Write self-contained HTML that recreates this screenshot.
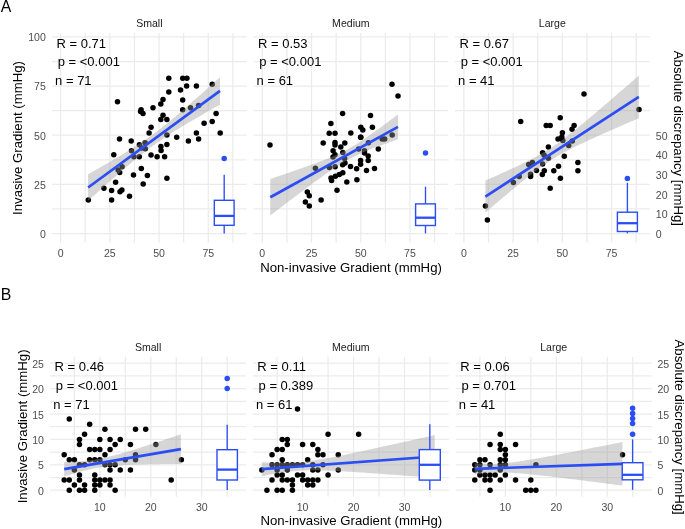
<!DOCTYPE html><html><head><meta charset="utf-8"><style>html,body{margin:0;padding:0;background:#fff;}svg{display:block;will-change:transform;}</style></head><body><svg width="685" height="529" viewBox="0 0 685 529" font-family='"Liberation Sans", sans-serif'>
<rect width="685" height="529" fill="#fff"/>
<g stroke="#EBEBEB" stroke-width="1.25"><line x1="60.60" y1="33.0" x2="60.60" y2="242.7"/><line x1="85.21" y1="33.0" x2="85.21" y2="242.7"/><line x1="109.83" y1="33.0" x2="109.83" y2="242.7"/><line x1="134.44" y1="33.0" x2="134.44" y2="242.7"/><line x1="159.05" y1="33.0" x2="159.05" y2="242.7"/><line x1="183.66" y1="33.0" x2="183.66" y2="242.7"/><line x1="208.28" y1="33.0" x2="208.28" y2="242.7"/><line x1="232.89" y1="33.0" x2="232.89" y2="242.7"/><line x1="52.0" y1="233.50" x2="246.75" y2="233.50"/><line x1="52.0" y1="208.93" x2="246.75" y2="208.93"/><line x1="52.0" y1="184.36" x2="246.75" y2="184.36"/><line x1="52.0" y1="159.79" x2="246.75" y2="159.79"/><line x1="52.0" y1="135.22" x2="246.75" y2="135.22"/><line x1="52.0" y1="110.64" x2="246.75" y2="110.64"/><line x1="52.0" y1="86.07" x2="246.75" y2="86.07"/><line x1="52.0" y1="61.50" x2="246.75" y2="61.50"/><line x1="52.0" y1="36.93" x2="246.75" y2="36.93"/></g>
<g fill="#000"><circle cx="168.80" cy="78.30" r="2.75"/><circle cx="182.70" cy="78.30" r="2.75"/><circle cx="186.90" cy="78.30" r="2.75"/><circle cx="186.60" cy="86.10" r="2.75"/><circle cx="196.40" cy="86.10" r="2.75"/><circle cx="212.20" cy="84.20" r="2.75"/><circle cx="168.80" cy="91.90" r="2.75"/><circle cx="180.50" cy="90.00" r="2.75"/><circle cx="182.70" cy="99.90" r="2.75"/><circle cx="163.00" cy="99.60" r="2.75"/><circle cx="160.80" cy="103.90" r="2.75"/><circle cx="153.00" cy="107.70" r="2.75"/><circle cx="182.70" cy="109.70" r="2.75"/><circle cx="190.50" cy="107.70" r="2.75"/><circle cx="198.60" cy="105.50" r="2.75"/><circle cx="163.00" cy="115.30" r="2.75"/><circle cx="160.80" cy="119.60" r="2.75"/><circle cx="166.90" cy="119.60" r="2.75"/><circle cx="216.10" cy="113.50" r="2.75"/><circle cx="212.20" cy="121.40" r="2.75"/><circle cx="204.10" cy="123.30" r="2.75"/><circle cx="151.10" cy="127.20" r="2.75"/><circle cx="149.10" cy="133.10" r="2.75"/><circle cx="166.90" cy="135.00" r="2.75"/><circle cx="176.70" cy="137.20" r="2.75"/><circle cx="196.40" cy="133.10" r="2.75"/><circle cx="198.60" cy="138.90" r="2.75"/><circle cx="188.40" cy="141.10" r="2.75"/><circle cx="220.20" cy="133.10" r="2.75"/><circle cx="166.90" cy="144.50" r="2.75"/><circle cx="117.50" cy="101.80" r="2.75"/><circle cx="141.10" cy="109.70" r="2.75"/><circle cx="143.00" cy="113.50" r="2.75"/><circle cx="140.60" cy="111.40" r="2.75"/><circle cx="119.50" cy="139.00" r="2.75"/><circle cx="131.20" cy="141.10" r="2.75"/><circle cx="139.40" cy="144.70" r="2.75"/><circle cx="145.10" cy="142.70" r="2.75"/><circle cx="145.30" cy="148.80" r="2.75"/><circle cx="141.80" cy="148.00" r="2.75"/><circle cx="131.50" cy="150.80" r="2.75"/><circle cx="133.90" cy="156.70" r="2.75"/><circle cx="139.30" cy="156.70" r="2.75"/><circle cx="113.80" cy="154.80" r="2.75"/><circle cx="151.00" cy="155.00" r="2.75"/><circle cx="157.10" cy="156.70" r="2.75"/><circle cx="164.60" cy="156.70" r="2.75"/><circle cx="160.90" cy="146.60" r="2.75"/><circle cx="161.10" cy="150.60" r="2.75"/><circle cx="122.10" cy="166.80" r="2.75"/><circle cx="118.10" cy="169.90" r="2.75"/><circle cx="119.70" cy="172.50" r="2.75"/><circle cx="141.30" cy="168.50" r="2.75"/><circle cx="133.50" cy="175.10" r="2.75"/><circle cx="147.40" cy="175.60" r="2.75"/><circle cx="166.90" cy="178.20" r="2.75"/><circle cx="143.20" cy="184.10" r="2.75"/><circle cx="115.60" cy="182.30" r="2.75"/><circle cx="103.90" cy="188.20" r="2.75"/><circle cx="111.60" cy="190.40" r="2.75"/><circle cx="120.00" cy="191.80" r="2.75"/><circle cx="121.90" cy="190.10" r="2.75"/><circle cx="129.50" cy="196.20" r="2.75"/><circle cx="111.60" cy="199.90" r="2.75"/><circle cx="88.30" cy="199.90" r="2.75"/></g>
<path d="M88.10,174.19 L90.30,172.95 L92.50,171.71 L94.69,170.46 L96.89,169.21 L99.09,167.96 L101.29,166.70 L103.49,165.44 L105.69,164.18 L107.88,162.91 L110.08,161.64 L112.28,160.36 L114.48,159.07 L116.68,157.78 L118.88,156.47 L121.07,155.16 L123.27,153.84 L125.47,152.51 L127.67,151.17 L129.87,149.81 L132.07,148.44 L134.26,147.05 L136.46,145.64 L138.66,144.21 L140.86,142.76 L143.06,141.29 L145.26,139.79 L147.45,138.26 L149.65,136.71 L151.85,135.13 L154.05,133.51 L156.25,131.87 L158.45,130.20 L160.64,128.50 L162.84,126.78 L165.04,125.03 L167.24,123.25 L169.44,121.46 L171.64,119.64 L173.83,117.81 L176.03,115.96 L178.23,114.09 L180.43,112.21 L182.63,110.32 L184.83,108.42 L187.02,106.51 L189.22,104.59 L191.42,102.66 L193.62,100.73 L195.82,98.79 L198.02,96.84 L200.22,94.89 L202.41,92.93 L204.61,90.97 L206.81,89.01 L209.01,87.04 L211.21,85.07 L213.41,83.09 L215.60,81.12 L217.80,79.14 L220.00,77.16 L220.00,104.64 L217.80,105.88 L215.60,107.12 L213.41,108.37 L211.21,109.61 L209.01,110.86 L206.81,112.11 L204.61,113.37 L202.41,114.63 L200.22,115.89 L198.02,117.16 L195.82,118.43 L193.62,119.71 L191.42,121.00 L189.22,122.29 L187.02,123.59 L184.83,124.90 L182.63,126.22 L180.43,127.55 L178.23,128.89 L176.03,130.24 L173.83,131.61 L171.64,133.00 L169.44,134.40 L167.24,135.83 L165.04,137.27 L162.84,138.74 L160.64,140.24 L158.45,141.76 L156.25,143.31 L154.05,144.89 L151.85,146.49 L149.65,148.13 L147.45,149.80 L145.26,151.49 L143.06,153.21 L140.86,154.96 L138.66,156.73 L136.46,158.52 L134.26,160.33 L132.07,162.16 L129.87,164.01 L127.67,165.87 L125.47,167.75 L123.27,169.64 L121.07,171.54 L118.88,173.45 L116.68,175.36 L114.48,177.29 L112.28,179.22 L110.08,181.16 L107.88,183.11 L105.69,185.06 L103.49,187.02 L101.29,188.98 L99.09,190.94 L96.89,192.91 L94.69,194.88 L92.50,196.85 L90.30,198.83 L88.10,200.81Z" fill="#999999" fill-opacity="0.4"/><line x1="88.1" y1="187.5" x2="220.0" y2="90.9" stroke="#2B4DF4" stroke-width="2.7"/>
<g stroke="#2B4DF4" fill="none"><line x1="224.2" y1="174.8" x2="224.2" y2="200.3" stroke-width="1.35"/><line x1="224.2" y1="225.3" x2="224.2" y2="233.4" stroke-width="1.35"/><rect x="214.29999999999998" y="200.3" width="19.8" height="25.0" fill="#fff" stroke-width="1.4"/><line x1="214.29999999999998" y1="215.9" x2="234.1" y2="215.9" stroke-width="2.3"/></g><g fill="#2B4DF4"><circle cx="224.2" cy="158.6" r="2.75"/></g>
<text x="56.50" y="47.70" font-size="13.0" fill="#000" text-anchor="start" >R = 0.71</text>
<text x="57.70" y="66.20" font-size="13.0" fill="#000" text-anchor="start" >p = &lt;0.001</text>
<text x="55.10" y="85.40" font-size="13.0" fill="#000" text-anchor="start" >n = 71</text>
<text x="149.38" y="27.20" font-size="10.56" fill="#1A1A1A" text-anchor="middle" >Small</text>
<text x="60.60" y="256.70" font-size="10.56" fill="#4D4D4D" text-anchor="middle" >0</text>
<text x="109.83" y="256.70" font-size="10.56" fill="#4D4D4D" text-anchor="middle" >25</text>
<text x="159.05" y="256.70" font-size="10.56" fill="#4D4D4D" text-anchor="middle" >50</text>
<text x="208.28" y="256.70" font-size="10.56" fill="#4D4D4D" text-anchor="middle" >75</text>
<g stroke="#EBEBEB" stroke-width="1.25"><line x1="262.30" y1="33.0" x2="262.30" y2="242.7"/><line x1="286.91" y1="33.0" x2="286.91" y2="242.7"/><line x1="311.53" y1="33.0" x2="311.53" y2="242.7"/><line x1="336.14" y1="33.0" x2="336.14" y2="242.7"/><line x1="360.75" y1="33.0" x2="360.75" y2="242.7"/><line x1="385.36" y1="33.0" x2="385.36" y2="242.7"/><line x1="409.98" y1="33.0" x2="409.98" y2="242.7"/><line x1="434.59" y1="33.0" x2="434.59" y2="242.7"/><line x1="253.5" y1="233.50" x2="448.25" y2="233.50"/><line x1="253.5" y1="208.93" x2="448.25" y2="208.93"/><line x1="253.5" y1="184.36" x2="448.25" y2="184.36"/><line x1="253.5" y1="159.79" x2="448.25" y2="159.79"/><line x1="253.5" y1="135.22" x2="448.25" y2="135.22"/><line x1="253.5" y1="110.64" x2="448.25" y2="110.64"/><line x1="253.5" y1="86.07" x2="448.25" y2="86.07"/><line x1="253.5" y1="61.50" x2="448.25" y2="61.50"/><line x1="253.5" y1="36.93" x2="448.25" y2="36.93"/></g>
<g fill="#000"><circle cx="392.00" cy="84.20" r="2.75"/><circle cx="398.00" cy="96.00" r="2.75"/><circle cx="370.50" cy="115.50" r="2.75"/><circle cx="360.80" cy="127.20" r="2.75"/><circle cx="362.80" cy="129.90" r="2.75"/><circle cx="372.40" cy="127.20" r="2.75"/><circle cx="350.80" cy="133.10" r="2.75"/><circle cx="360.80" cy="137.20" r="2.75"/><circle cx="382.20" cy="138.90" r="2.75"/><circle cx="384.70" cy="138.90" r="2.75"/><circle cx="392.20" cy="135.00" r="2.75"/><circle cx="368.40" cy="142.70" r="2.75"/><circle cx="342.60" cy="113.60" r="2.75"/><circle cx="330.90" cy="123.40" r="2.75"/><circle cx="329.20" cy="133.30" r="2.75"/><circle cx="335.00" cy="133.30" r="2.75"/><circle cx="270.00" cy="145.00" r="2.75"/><circle cx="323.20" cy="143.10" r="2.75"/><circle cx="335.00" cy="142.60" r="2.75"/><circle cx="335.00" cy="145.00" r="2.75"/><circle cx="344.80" cy="143.10" r="2.75"/><circle cx="340.80" cy="147.00" r="2.75"/><circle cx="333.10" cy="150.80" r="2.75"/><circle cx="360.60" cy="137.20" r="2.75"/><circle cx="335.00" cy="154.70" r="2.75"/><circle cx="333.00" cy="156.90" r="2.75"/><circle cx="342.80" cy="152.50" r="2.75"/><circle cx="344.60" cy="158.60" r="2.75"/><circle cx="345.00" cy="162.90" r="2.75"/><circle cx="342.60" cy="164.80" r="2.75"/><circle cx="358.60" cy="149.00" r="2.75"/><circle cx="364.50" cy="150.80" r="2.75"/><circle cx="364.50" cy="153.00" r="2.75"/><circle cx="368.20" cy="156.00" r="2.75"/><circle cx="368.20" cy="160.40" r="2.75"/><circle cx="360.60" cy="160.40" r="2.75"/><circle cx="360.60" cy="164.30" r="2.75"/><circle cx="315.40" cy="168.30" r="2.75"/><circle cx="329.40" cy="167.40" r="2.75"/><circle cx="335.10" cy="166.70" r="2.75"/><circle cx="350.50" cy="166.40" r="2.75"/><circle cx="356.60" cy="168.70" r="2.75"/><circle cx="366.50" cy="170.50" r="2.75"/><circle cx="342.80" cy="172.70" r="2.75"/><circle cx="339.30" cy="174.40" r="2.75"/><circle cx="335.40" cy="176.20" r="2.75"/><circle cx="331.00" cy="177.90" r="2.75"/><circle cx="331.60" cy="180.40" r="2.75"/><circle cx="356.90" cy="179.70" r="2.75"/><circle cx="346.80" cy="182.00" r="2.75"/><circle cx="337.00" cy="190.20" r="2.75"/><circle cx="307.30" cy="192.10" r="2.75"/><circle cx="309.30" cy="195.80" r="2.75"/><circle cx="305.40" cy="202.00" r="2.75"/><circle cx="309.30" cy="206.00" r="2.75"/><circle cx="321.10" cy="199.90" r="2.75"/><circle cx="378.30" cy="149.00" r="2.75"/><circle cx="374.50" cy="168.50" r="2.75"/></g>
<path d="M270.30,178.95 L272.43,178.24 L274.56,177.52 L276.69,176.80 L278.81,176.08 L280.94,175.36 L283.07,174.64 L285.20,173.91 L287.33,173.18 L289.45,172.46 L291.58,171.72 L293.71,170.99 L295.84,170.25 L297.97,169.51 L300.10,168.77 L302.23,168.02 L304.35,167.27 L306.48,166.52 L308.61,165.76 L310.74,164.99 L312.87,164.21 L315.00,163.43 L317.12,162.64 L319.25,161.84 L321.38,161.03 L323.51,160.21 L325.64,159.37 L327.76,158.52 L329.89,157.64 L332.02,156.75 L334.15,155.83 L336.28,154.89 L338.41,153.91 L340.53,152.90 L342.66,151.85 L344.79,150.77 L346.92,149.64 L349.05,148.47 L351.18,147.26 L353.31,146.01 L355.43,144.71 L357.56,143.38 L359.69,142.02 L361.82,140.63 L363.95,139.20 L366.07,137.76 L368.20,136.29 L370.33,134.80 L372.46,133.30 L374.59,131.78 L376.72,130.25 L378.85,128.71 L380.97,127.15 L383.10,125.59 L385.23,124.02 L387.36,122.45 L389.49,120.87 L391.62,119.28 L393.74,117.69 L395.87,116.09 L398.00,114.49 L398.00,139.31 L395.87,140.05 L393.74,140.80 L391.62,141.55 L389.49,142.31 L387.36,143.07 L385.23,143.84 L383.10,144.61 L380.97,145.39 L378.85,146.18 L376.72,146.98 L374.59,147.80 L372.46,148.62 L370.33,149.46 L368.20,150.32 L366.07,151.19 L363.95,152.09 L361.82,153.01 L359.69,153.96 L357.56,154.94 L355.43,155.95 L353.31,157.00 L351.18,158.10 L349.05,159.23 L346.92,160.40 L344.79,161.62 L342.66,162.87 L340.53,164.17 L338.41,165.50 L336.28,166.87 L334.15,168.27 L332.02,169.69 L329.89,171.14 L327.76,172.61 L325.64,174.10 L323.51,175.61 L321.38,177.13 L319.25,178.66 L317.12,180.20 L315.00,181.76 L312.87,183.32 L310.74,184.89 L308.61,186.46 L306.48,188.05 L304.35,189.63 L302.23,191.23 L300.10,192.82 L297.97,194.42 L295.84,196.03 L293.71,197.63 L291.58,199.24 L289.45,200.85 L287.33,202.47 L285.20,204.09 L283.07,205.70 L280.94,207.32 L278.81,208.94 L276.69,210.57 L274.56,212.19 L272.43,213.82 L270.30,215.45Z" fill="#999999" fill-opacity="0.4"/><line x1="270.3" y1="197.2" x2="398.0" y2="126.9" stroke="#2B4DF4" stroke-width="2.7"/>
<g stroke="#2B4DF4" fill="none"><line x1="425.5" y1="186.7" x2="425.5" y2="203.9" stroke-width="1.35"/><line x1="425.5" y1="225.5" x2="425.5" y2="233.4" stroke-width="1.35"/><rect x="415.6" y="203.9" width="19.8" height="21.599999999999994" fill="#fff" stroke-width="1.4"/><line x1="415.6" y1="217.7" x2="435.4" y2="217.7" stroke-width="2.3"/></g><g fill="#2B4DF4"><circle cx="425.5" cy="153.1" r="2.75"/></g>
<text x="258.00" y="47.70" font-size="13.0" fill="#000" text-anchor="start" >R = 0.53</text>
<text x="259.20" y="66.20" font-size="13.0" fill="#000" text-anchor="start" >p = &lt;0.001</text>
<text x="256.60" y="85.40" font-size="13.0" fill="#000" text-anchor="start" >n = 61</text>
<text x="350.88" y="27.20" font-size="10.56" fill="#1A1A1A" text-anchor="middle" >Medium</text>
<text x="262.30" y="256.70" font-size="10.56" fill="#4D4D4D" text-anchor="middle" >0</text>
<text x="311.53" y="256.70" font-size="10.56" fill="#4D4D4D" text-anchor="middle" >25</text>
<text x="360.75" y="256.70" font-size="10.56" fill="#4D4D4D" text-anchor="middle" >50</text>
<text x="409.98" y="256.70" font-size="10.56" fill="#4D4D4D" text-anchor="middle" >75</text>
<g stroke="#EBEBEB" stroke-width="1.25"><line x1="463.90" y1="33.0" x2="463.90" y2="242.7"/><line x1="488.51" y1="33.0" x2="488.51" y2="242.7"/><line x1="513.12" y1="33.0" x2="513.12" y2="242.7"/><line x1="537.74" y1="33.0" x2="537.74" y2="242.7"/><line x1="562.35" y1="33.0" x2="562.35" y2="242.7"/><line x1="586.96" y1="33.0" x2="586.96" y2="242.7"/><line x1="611.58" y1="33.0" x2="611.58" y2="242.7"/><line x1="636.19" y1="33.0" x2="636.19" y2="242.7"/><line x1="454.95" y1="233.50" x2="649.70" y2="233.50"/><line x1="454.95" y1="208.93" x2="649.70" y2="208.93"/><line x1="454.95" y1="184.36" x2="649.70" y2="184.36"/><line x1="454.95" y1="159.79" x2="649.70" y2="159.79"/><line x1="454.95" y1="135.22" x2="649.70" y2="135.22"/><line x1="454.95" y1="110.64" x2="649.70" y2="110.64"/><line x1="454.95" y1="86.07" x2="649.70" y2="86.07"/><line x1="454.95" y1="61.50" x2="649.70" y2="61.50"/><line x1="454.95" y1="36.93" x2="649.70" y2="36.93"/></g>
<g fill="#000"><circle cx="520.70" cy="121.60" r="2.75"/><circle cx="546.20" cy="125.50" r="2.75"/><circle cx="550.20" cy="125.50" r="2.75"/><circle cx="548.40" cy="146.90" r="2.75"/><circle cx="542.60" cy="152.70" r="2.75"/><circle cx="584.00" cy="93.90" r="2.75"/><circle cx="560.20" cy="117.70" r="2.75"/><circle cx="574.10" cy="125.50" r="2.75"/><circle cx="572.00" cy="129.30" r="2.75"/><circle cx="562.40" cy="132.80" r="2.75"/><circle cx="561.80" cy="136.90" r="2.75"/><circle cx="558.00" cy="139.10" r="2.75"/><circle cx="562.80" cy="140.60" r="2.75"/><circle cx="572.30" cy="141.00" r="2.75"/><circle cx="568.70" cy="145.40" r="2.75"/><circle cx="544.20" cy="155.20" r="2.75"/><circle cx="564.30" cy="156.20" r="2.75"/><circle cx="548.40" cy="158.20" r="2.75"/><circle cx="542.60" cy="164.10" r="2.75"/><circle cx="528.70" cy="164.50" r="2.75"/><circle cx="532.40" cy="162.60" r="2.75"/><circle cx="536.50" cy="170.40" r="2.75"/><circle cx="544.30" cy="170.70" r="2.75"/><circle cx="542.30" cy="174.60" r="2.75"/><circle cx="530.60" cy="174.30" r="2.75"/><circle cx="530.60" cy="176.50" r="2.75"/><circle cx="519.20" cy="176.50" r="2.75"/><circle cx="513.40" cy="182.60" r="2.75"/><circle cx="553.80" cy="170.70" r="2.75"/><circle cx="550.20" cy="188.20" r="2.75"/><circle cx="485.40" cy="206.00" r="2.75"/><circle cx="487.40" cy="219.90" r="2.75"/><circle cx="558.50" cy="166.30" r="2.75"/><circle cx="560.40" cy="178.20" r="2.75"/><circle cx="577.90" cy="162.60" r="2.75"/><circle cx="577.90" cy="170.70" r="2.75"/><circle cx="639.00" cy="109.60" r="2.75"/></g>
<path d="M485.40,180.55 L487.96,179.43 L490.51,178.30 L493.07,177.17 L495.63,176.04 L498.18,174.90 L500.74,173.76 L503.30,172.61 L505.85,171.45 L508.41,170.29 L510.97,169.11 L513.52,167.93 L516.08,166.73 L518.64,165.52 L521.19,164.30 L523.75,163.06 L526.31,161.79 L528.86,160.51 L531.42,159.19 L533.98,157.85 L536.53,156.47 L539.09,155.05 L541.65,153.58 L544.20,152.07 L546.76,150.50 L549.32,148.88 L551.87,147.21 L554.43,145.48 L556.99,143.69 L559.54,141.86 L562.10,139.98 L564.66,138.06 L567.21,136.09 L569.77,134.10 L572.33,132.08 L574.88,130.03 L577.44,127.96 L580.00,125.87 L582.55,123.76 L585.11,121.64 L587.67,119.51 L590.22,117.36 L592.78,115.21 L595.34,113.04 L597.89,110.87 L600.45,108.70 L603.01,106.52 L605.56,104.33 L608.12,102.14 L610.68,99.94 L613.23,97.74 L615.79,95.54 L618.35,93.33 L620.90,91.12 L623.46,88.91 L626.02,86.70 L628.57,84.48 L631.13,82.26 L633.69,80.04 L636.24,77.82 L638.80,75.60 L638.80,118.20 L636.24,119.30 L633.69,120.40 L631.13,121.51 L628.57,122.61 L626.02,123.72 L623.46,124.83 L620.90,125.94 L618.35,127.06 L615.79,128.17 L613.23,129.29 L610.68,130.42 L608.12,131.54 L605.56,132.67 L603.01,133.81 L600.45,134.95 L597.89,136.10 L595.34,137.25 L592.78,138.41 L590.22,139.58 L587.67,140.76 L585.11,141.95 L582.55,143.15 L580.00,144.37 L577.44,145.60 L574.88,146.86 L572.33,148.13 L569.77,149.43 L567.21,150.76 L564.66,152.12 L562.10,153.52 L559.54,154.96 L556.99,156.45 L554.43,157.99 L551.87,159.58 L549.32,161.23 L546.76,162.94 L544.20,164.69 L541.65,166.50 L539.09,168.36 L536.53,170.27 L533.98,172.21 L531.42,174.19 L528.86,176.20 L526.31,178.23 L523.75,180.29 L521.19,182.37 L518.64,184.47 L516.08,186.59 L513.52,188.72 L510.97,190.85 L508.41,193.00 L505.85,195.16 L503.30,197.33 L500.74,199.50 L498.18,201.68 L495.63,203.87 L493.07,206.06 L490.51,208.25 L487.96,210.45 L485.40,212.65Z" fill="#999999" fill-opacity="0.4"/><line x1="485.4" y1="196.6" x2="638.8" y2="96.9" stroke="#2B4DF4" stroke-width="2.7"/>
<g stroke="#2B4DF4" fill="none"><line x1="627.4" y1="182.8" x2="627.4" y2="212.2" stroke-width="1.35"/><line x1="627.4" y1="231.5" x2="627.4" y2="233.4" stroke-width="1.35"/><rect x="617.4" y="212.2" width="20.0" height="19.30000000000001" fill="#fff" stroke-width="1.4"/><line x1="617.4" y1="223.2" x2="637.4" y2="223.2" stroke-width="2.3"/></g><g fill="#2B4DF4"><circle cx="627.4" cy="178.6" r="2.75"/></g>
<text x="459.45" y="47.70" font-size="13.0" fill="#000" text-anchor="start" >R = 0.67</text>
<text x="460.65" y="66.20" font-size="13.0" fill="#000" text-anchor="start" >p = &lt;0.001</text>
<text x="458.05" y="85.40" font-size="13.0" fill="#000" text-anchor="start" >n = 41</text>
<text x="552.33" y="27.20" font-size="10.56" fill="#1A1A1A" text-anchor="middle" >Large</text>
<text x="463.90" y="256.70" font-size="10.56" fill="#4D4D4D" text-anchor="middle" >0</text>
<text x="513.12" y="256.70" font-size="10.56" fill="#4D4D4D" text-anchor="middle" >25</text>
<text x="562.35" y="256.70" font-size="10.56" fill="#4D4D4D" text-anchor="middle" >50</text>
<text x="611.58" y="256.70" font-size="10.56" fill="#4D4D4D" text-anchor="middle" >75</text>
<text x="45.80" y="237.90" font-size="10.56" fill="#4D4D4D" text-anchor="end" >0</text>
<text x="45.80" y="188.76" font-size="10.56" fill="#4D4D4D" text-anchor="end" >25</text>
<text x="45.80" y="139.62" font-size="10.56" fill="#4D4D4D" text-anchor="end" >50</text>
<text x="45.80" y="90.47" font-size="10.56" fill="#4D4D4D" text-anchor="end" >75</text>
<text x="45.80" y="41.33" font-size="10.56" fill="#4D4D4D" text-anchor="end" >100</text>
<text x="655.80" y="237.90" font-size="10.56" fill="#4D4D4D" text-anchor="start" >0</text>
<text x="655.80" y="218.24" font-size="10.56" fill="#4D4D4D" text-anchor="start" >10</text>
<text x="655.80" y="198.59" font-size="10.56" fill="#4D4D4D" text-anchor="start" >20</text>
<text x="655.80" y="178.93" font-size="10.56" fill="#4D4D4D" text-anchor="start" >30</text>
<text x="655.80" y="159.27" font-size="10.56" fill="#4D4D4D" text-anchor="start" >40</text>
<text x="655.80" y="139.62" font-size="10.56" fill="#4D4D4D" text-anchor="start" >50</text>
<g stroke="#EBEBEB" stroke-width="1.25"><line x1="74.38" y1="356.8" x2="74.38" y2="496.8"/><line x1="99.85" y1="356.8" x2="99.85" y2="496.8"/><line x1="125.32" y1="356.8" x2="125.32" y2="496.8"/><line x1="150.80" y1="356.8" x2="150.80" y2="496.8"/><line x1="176.28" y1="356.8" x2="176.28" y2="496.8"/><line x1="201.75" y1="356.8" x2="201.75" y2="496.8"/><line x1="227.22" y1="356.8" x2="227.22" y2="496.8"/><line x1="50.1" y1="490.20" x2="246.10" y2="490.20"/><line x1="50.1" y1="477.50" x2="246.10" y2="477.50"/><line x1="50.1" y1="464.80" x2="246.10" y2="464.80"/><line x1="50.1" y1="452.10" x2="246.10" y2="452.10"/><line x1="50.1" y1="439.40" x2="246.10" y2="439.40"/><line x1="50.1" y1="426.70" x2="246.10" y2="426.70"/><line x1="50.1" y1="414.00" x2="246.10" y2="414.00"/><line x1="50.1" y1="401.30" x2="246.10" y2="401.30"/><line x1="50.1" y1="388.60" x2="246.10" y2="388.60"/><line x1="50.1" y1="375.90" x2="246.10" y2="375.90"/><line x1="50.1" y1="363.20" x2="246.10" y2="363.20"/></g>
<g fill="#000"><circle cx="69.28" cy="419.08" r="2.75"/><circle cx="89.66" cy="424.16" r="2.75"/><circle cx="104.94" cy="429.24" r="2.75"/><circle cx="135.51" cy="429.24" r="2.75"/><circle cx="145.70" cy="429.24" r="2.75"/><circle cx="84.56" cy="434.32" r="2.75"/><circle cx="79.47" cy="439.40" r="2.75"/><circle cx="99.85" cy="439.40" r="2.75"/><circle cx="110.04" cy="439.40" r="2.75"/><circle cx="120.23" cy="439.40" r="2.75"/><circle cx="79.47" cy="444.48" r="2.75"/><circle cx="115.13" cy="444.48" r="2.75"/><circle cx="130.42" cy="444.48" r="2.75"/><circle cx="155.89" cy="444.48" r="2.75"/><circle cx="89.66" cy="449.56" r="2.75"/><circle cx="94.75" cy="449.56" r="2.75"/><circle cx="99.85" cy="449.56" r="2.75"/><circle cx="110.04" cy="449.56" r="2.75"/><circle cx="64.19" cy="454.64" r="2.75"/><circle cx="104.94" cy="454.64" r="2.75"/><circle cx="135.51" cy="454.64" r="2.75"/><circle cx="69.28" cy="459.72" r="2.75"/><circle cx="74.38" cy="459.72" r="2.75"/><circle cx="89.66" cy="459.72" r="2.75"/><circle cx="94.75" cy="459.72" r="2.75"/><circle cx="99.85" cy="459.72" r="2.75"/><circle cx="125.32" cy="459.72" r="2.75"/><circle cx="135.51" cy="459.72" r="2.75"/><circle cx="181.37" cy="459.72" r="2.75"/><circle cx="79.47" cy="464.80" r="2.75"/><circle cx="84.56" cy="464.80" r="2.75"/><circle cx="104.94" cy="464.80" r="2.75"/><circle cx="110.04" cy="464.80" r="2.75"/><circle cx="115.13" cy="464.80" r="2.75"/><circle cx="74.38" cy="469.88" r="2.75"/><circle cx="110.04" cy="469.88" r="2.75"/><circle cx="120.23" cy="469.88" r="2.75"/><circle cx="130.42" cy="469.88" r="2.75"/><circle cx="79.47" cy="474.96" r="2.75"/><circle cx="94.75" cy="474.96" r="2.75"/><circle cx="64.19" cy="480.04" r="2.75"/><circle cx="69.28" cy="480.04" r="2.75"/><circle cx="79.47" cy="480.04" r="2.75"/><circle cx="94.75" cy="480.04" r="2.75"/><circle cx="99.85" cy="480.04" r="2.75"/><circle cx="104.94" cy="480.04" r="2.75"/><circle cx="110.04" cy="480.04" r="2.75"/><circle cx="171.18" cy="480.04" r="2.75"/><circle cx="74.38" cy="485.12" r="2.75"/><circle cx="84.56" cy="485.12" r="2.75"/><circle cx="94.75" cy="485.12" r="2.75"/><circle cx="99.85" cy="485.12" r="2.75"/><circle cx="110.04" cy="485.12" r="2.75"/><circle cx="69.28" cy="490.20" r="2.75"/><circle cx="79.47" cy="490.20" r="2.75"/><circle cx="84.56" cy="490.20" r="2.75"/><circle cx="94.75" cy="490.20" r="2.75"/><circle cx="115.13" cy="490.20" r="2.75"/></g>
<path d="M64.20,462.00 L66.14,461.93 L68.09,461.85 L70.03,461.76 L71.98,461.67 L73.92,461.56 L75.87,461.45 L77.81,461.33 L79.76,461.19 L81.70,461.04 L83.65,460.88 L85.59,460.70 L87.54,460.50 L89.49,460.28 L91.43,460.04 L93.38,459.77 L95.32,459.48 L97.27,459.17 L99.21,458.83 L101.16,458.46 L103.10,458.07 L105.05,457.66 L106.99,457.23 L108.94,456.77 L110.88,456.29 L112.83,455.80 L114.77,455.29 L116.72,454.76 L118.66,454.22 L120.61,453.67 L122.55,453.11 L124.50,452.54 L126.44,451.96 L128.38,451.38 L130.33,450.78 L132.28,450.19 L134.22,449.58 L136.17,448.97 L138.11,448.36 L140.06,447.74 L142.00,447.12 L143.94,446.50 L145.89,445.87 L147.84,445.24 L149.78,444.61 L151.73,443.98 L153.67,443.34 L155.62,442.70 L157.56,442.06 L159.50,441.42 L161.45,440.78 L163.39,440.14 L165.34,439.49 L167.29,438.85 L169.23,438.20 L171.18,437.55 L173.12,436.90 L175.06,436.25 L177.01,435.60 L178.96,434.95 L180.90,434.30 L180.90,463.90 L178.96,463.92 L177.01,463.94 L175.06,463.96 L173.12,463.98 L171.18,464.00 L169.23,464.02 L167.29,464.04 L165.34,464.07 L163.39,464.09 L161.45,464.12 L159.50,464.15 L157.56,464.18 L155.62,464.21 L153.67,464.24 L151.73,464.27 L149.78,464.31 L147.84,464.35 L145.89,464.39 L143.94,464.43 L142.00,464.48 L140.06,464.53 L138.11,464.58 L136.17,464.64 L134.22,464.70 L132.28,464.76 L130.33,464.84 L128.38,464.91 L126.44,465.00 L124.50,465.09 L122.55,465.19 L120.61,465.30 L118.66,465.42 L116.72,465.55 L114.77,465.69 L112.83,465.85 L110.88,466.03 L108.94,466.22 L106.99,466.43 L105.05,466.67 L103.10,466.93 L101.16,467.21 L99.21,467.51 L97.27,467.84 L95.32,468.20 L93.38,468.58 L91.43,468.98 L89.49,469.41 L87.54,469.86 L85.59,470.33 L83.65,470.82 L81.70,471.33 L79.76,471.85 L77.81,472.38 L75.87,472.93 L73.92,473.49 L71.98,474.05 L70.03,474.63 L68.09,475.21 L66.14,475.80 L64.20,476.40Z" fill="#999999" fill-opacity="0.4"/><line x1="64.2" y1="469.2" x2="180.9" y2="449.1" stroke="#2B4DF4" stroke-width="2.7"/>
<g stroke="#2B4DF4" fill="none"><line x1="227.2" y1="424.7" x2="227.2" y2="449.7" stroke-width="1.35"/><line x1="227.2" y1="480.0" x2="227.2" y2="490.0" stroke-width="1.35"/><rect x="217.0" y="449.7" width="20.4" height="30.30000000000001" fill="#fff" stroke-width="1.4"/><line x1="217.0" y1="469.6" x2="237.39999999999998" y2="469.6" stroke-width="2.3"/></g><g fill="#2B4DF4"><circle cx="227.2" cy="378.4" r="2.75"/><circle cx="227.2" cy="388.5" r="2.75"/></g>
<text x="54.60" y="371.00" font-size="13.0" fill="#000" text-anchor="start" >R = 0.46</text>
<text x="55.80" y="389.80" font-size="13.0" fill="#000" text-anchor="start" >p = &lt;0.001</text>
<text x="53.20" y="409.10" font-size="13.0" fill="#000" text-anchor="start" >n = 71</text>
<text x="148.10" y="351.00" font-size="10.56" fill="#1A1A1A" text-anchor="middle" >Small</text>
<text x="99.85" y="510.60" font-size="10.56" fill="#4D4D4D" text-anchor="middle" >10</text>
<text x="150.80" y="510.60" font-size="10.56" fill="#4D4D4D" text-anchor="middle" >20</text>
<text x="201.75" y="510.60" font-size="10.56" fill="#4D4D4D" text-anchor="middle" >30</text>
<g stroke="#EBEBEB" stroke-width="1.25"><line x1="277.12" y1="356.8" x2="277.12" y2="496.8"/><line x1="302.60" y1="356.8" x2="302.60" y2="496.8"/><line x1="328.07" y1="356.8" x2="328.07" y2="496.8"/><line x1="353.55" y1="356.8" x2="353.55" y2="496.8"/><line x1="379.02" y1="356.8" x2="379.02" y2="496.8"/><line x1="404.50" y1="356.8" x2="404.50" y2="496.8"/><line x1="429.98" y1="356.8" x2="429.98" y2="496.8"/><line x1="252.85" y1="490.20" x2="448.85" y2="490.20"/><line x1="252.85" y1="477.50" x2="448.85" y2="477.50"/><line x1="252.85" y1="464.80" x2="448.85" y2="464.80"/><line x1="252.85" y1="452.10" x2="448.85" y2="452.10"/><line x1="252.85" y1="439.40" x2="448.85" y2="439.40"/><line x1="252.85" y1="426.70" x2="448.85" y2="426.70"/><line x1="252.85" y1="414.00" x2="448.85" y2="414.00"/><line x1="252.85" y1="401.30" x2="448.85" y2="401.30"/><line x1="252.85" y1="388.60" x2="448.85" y2="388.60"/><line x1="252.85" y1="375.90" x2="448.85" y2="375.90"/><line x1="252.85" y1="363.20" x2="448.85" y2="363.20"/></g>
<g fill="#000"><circle cx="297.50" cy="408.92" r="2.75"/><circle cx="328.07" cy="434.32" r="2.75"/><circle cx="358.64" cy="434.32" r="2.75"/><circle cx="282.22" cy="439.40" r="2.75"/><circle cx="287.31" cy="439.40" r="2.75"/><circle cx="287.31" cy="444.48" r="2.75"/><circle cx="302.60" cy="444.48" r="2.75"/><circle cx="312.79" cy="444.48" r="2.75"/><circle cx="277.12" cy="449.56" r="2.75"/><circle cx="282.22" cy="449.56" r="2.75"/><circle cx="317.88" cy="449.56" r="2.75"/><circle cx="272.03" cy="454.64" r="2.75"/><circle cx="317.88" cy="454.64" r="2.75"/><circle cx="322.98" cy="454.64" r="2.75"/><circle cx="338.26" cy="454.64" r="2.75"/><circle cx="282.22" cy="459.72" r="2.75"/><circle cx="307.69" cy="459.72" r="2.75"/><circle cx="272.03" cy="464.80" r="2.75"/><circle cx="277.12" cy="464.80" r="2.75"/><circle cx="282.22" cy="464.80" r="2.75"/><circle cx="287.31" cy="464.80" r="2.75"/><circle cx="292.41" cy="464.80" r="2.75"/><circle cx="297.50" cy="464.80" r="2.75"/><circle cx="302.60" cy="464.80" r="2.75"/><circle cx="312.79" cy="464.80" r="2.75"/><circle cx="322.98" cy="464.80" r="2.75"/><circle cx="261.84" cy="469.88" r="2.75"/><circle cx="277.12" cy="469.88" r="2.75"/><circle cx="287.31" cy="469.88" r="2.75"/><circle cx="312.79" cy="469.88" r="2.75"/><circle cx="317.88" cy="469.88" r="2.75"/><circle cx="338.26" cy="469.88" r="2.75"/><circle cx="277.12" cy="474.96" r="2.75"/><circle cx="282.22" cy="474.96" r="2.75"/><circle cx="297.50" cy="474.96" r="2.75"/><circle cx="302.60" cy="474.96" r="2.75"/><circle cx="328.07" cy="474.96" r="2.75"/><circle cx="272.03" cy="480.04" r="2.75"/><circle cx="282.22" cy="480.04" r="2.75"/><circle cx="287.31" cy="480.04" r="2.75"/><circle cx="292.41" cy="480.04" r="2.75"/><circle cx="302.60" cy="480.04" r="2.75"/><circle cx="307.69" cy="480.04" r="2.75"/><circle cx="312.79" cy="480.04" r="2.75"/><circle cx="317.88" cy="480.04" r="2.75"/><circle cx="292.41" cy="485.12" r="2.75"/><circle cx="307.69" cy="485.12" r="2.75"/><circle cx="312.79" cy="485.12" r="2.75"/><circle cx="266.94" cy="490.20" r="2.75"/><circle cx="277.12" cy="490.20" r="2.75"/><circle cx="282.22" cy="490.20" r="2.75"/><circle cx="292.41" cy="490.20" r="2.75"/><circle cx="435.07" cy="464.80" r="2.75"/></g>
<path d="M261.80,462.20 L264.68,462.34 L267.56,462.46 L270.44,462.57 L273.33,462.67 L276.21,462.74 L279.09,462.79 L281.97,462.82 L284.85,462.81 L287.74,462.77 L290.62,462.70 L293.50,462.58 L296.38,462.42 L299.26,462.21 L302.14,461.96 L305.02,461.66 L307.91,461.32 L310.79,460.94 L313.67,460.53 L316.55,460.08 L319.43,459.61 L322.31,459.12 L325.20,458.60 L328.08,458.07 L330.96,457.53 L333.84,456.97 L336.72,456.41 L339.61,455.83 L342.49,455.25 L345.37,454.66 L348.25,454.06 L351.13,453.46 L354.01,452.85 L356.89,452.24 L359.78,451.63 L362.66,451.01 L365.54,450.39 L368.42,449.77 L371.30,449.14 L374.19,448.51 L377.07,447.89 L379.95,447.26 L382.83,446.62 L385.71,445.99 L388.59,445.36 L391.48,444.72 L394.36,444.08 L397.24,443.45 L400.12,442.81 L403.00,442.17 L405.88,441.53 L408.76,440.89 L411.65,440.25 L414.53,439.61 L417.41,438.96 L420.29,438.32 L423.17,437.68 L426.06,437.03 L428.94,436.39 L431.82,435.74 L434.70,435.10 L434.70,477.90 L431.82,477.68 L428.94,477.46 L426.06,477.24 L423.17,477.02 L420.29,476.80 L417.41,476.58 L414.53,476.36 L411.65,476.14 L408.76,475.92 L405.88,475.70 L403.00,475.49 L400.12,475.27 L397.24,475.06 L394.36,474.84 L391.48,474.63 L388.59,474.42 L385.71,474.21 L382.83,474.00 L379.95,473.79 L377.07,473.58 L374.19,473.38 L371.30,473.17 L368.42,472.97 L365.54,472.77 L362.66,472.57 L359.78,472.38 L356.89,472.19 L354.01,472.00 L351.13,471.82 L348.25,471.64 L345.37,471.47 L342.49,471.30 L339.61,471.14 L336.72,470.99 L333.84,470.84 L330.96,470.71 L328.08,470.59 L325.20,470.48 L322.31,470.39 L319.43,470.32 L316.55,470.27 L313.67,470.25 L310.79,470.26 L307.91,470.31 L305.02,470.39 L302.14,470.52 L299.26,470.69 L296.38,470.90 L293.50,471.16 L290.62,471.47 L287.74,471.82 L284.85,472.20 L281.97,472.62 L279.09,473.07 L276.21,473.54 L273.33,474.04 L270.44,474.56 L267.56,475.09 L264.68,475.64 L261.80,476.20Z" fill="#999999" fill-opacity="0.4"/><line x1="261.8" y1="469.2" x2="434.7" y2="456.5" stroke="#2B4DF4" stroke-width="2.7"/>
<g stroke="#2B4DF4" fill="none"><line x1="429.8" y1="424.3" x2="429.8" y2="449.6" stroke-width="1.35"/><line x1="429.8" y1="480.1" x2="429.8" y2="489.9" stroke-width="1.35"/><rect x="419.3" y="449.6" width="21.0" height="30.5" fill="#fff" stroke-width="1.4"/><line x1="419.3" y1="464.8" x2="440.3" y2="464.8" stroke-width="2.3"/></g><g fill="#2B4DF4"></g>
<text x="257.35" y="371.00" font-size="13.0" fill="#000" text-anchor="start" >R = 0.11</text>
<text x="258.55" y="389.80" font-size="13.0" fill="#000" text-anchor="start" >p = 0.389</text>
<text x="255.95" y="409.10" font-size="13.0" fill="#000" text-anchor="start" >n = 61</text>
<text x="350.85" y="351.00" font-size="10.56" fill="#1A1A1A" text-anchor="middle" >Medium</text>
<text x="302.60" y="510.60" font-size="10.56" fill="#4D4D4D" text-anchor="middle" >10</text>
<text x="353.55" y="510.60" font-size="10.56" fill="#4D4D4D" text-anchor="middle" >20</text>
<text x="404.50" y="510.60" font-size="10.56" fill="#4D4D4D" text-anchor="middle" >30</text>
<g stroke="#EBEBEB" stroke-width="1.25"><line x1="479.88" y1="356.8" x2="479.88" y2="496.8"/><line x1="505.35" y1="356.8" x2="505.35" y2="496.8"/><line x1="530.82" y1="356.8" x2="530.82" y2="496.8"/><line x1="556.30" y1="356.8" x2="556.30" y2="496.8"/><line x1="581.77" y1="356.8" x2="581.77" y2="496.8"/><line x1="607.25" y1="356.8" x2="607.25" y2="496.8"/><line x1="632.72" y1="356.8" x2="632.72" y2="496.8"/><line x1="455.75" y1="490.20" x2="651.75" y2="490.20"/><line x1="455.75" y1="477.50" x2="651.75" y2="477.50"/><line x1="455.75" y1="464.80" x2="651.75" y2="464.80"/><line x1="455.75" y1="452.10" x2="651.75" y2="452.10"/><line x1="455.75" y1="439.40" x2="651.75" y2="439.40"/><line x1="455.75" y1="426.70" x2="651.75" y2="426.70"/><line x1="455.75" y1="414.00" x2="651.75" y2="414.00"/><line x1="455.75" y1="401.30" x2="651.75" y2="401.30"/><line x1="455.75" y1="388.60" x2="651.75" y2="388.60"/><line x1="455.75" y1="375.90" x2="651.75" y2="375.90"/><line x1="455.75" y1="363.20" x2="651.75" y2="363.20"/></g>
<g fill="#000"><circle cx="500.25" cy="434.32" r="2.75"/><circle cx="490.06" cy="444.48" r="2.75"/><circle cx="500.25" cy="444.48" r="2.75"/><circle cx="515.54" cy="444.48" r="2.75"/><circle cx="500.25" cy="449.56" r="2.75"/><circle cx="505.35" cy="449.56" r="2.75"/><circle cx="505.35" cy="454.64" r="2.75"/><circle cx="479.88" cy="459.72" r="2.75"/><circle cx="484.97" cy="459.72" r="2.75"/><circle cx="500.25" cy="459.72" r="2.75"/><circle cx="505.35" cy="459.72" r="2.75"/><circle cx="474.78" cy="464.80" r="2.75"/><circle cx="479.88" cy="464.80" r="2.75"/><circle cx="490.06" cy="464.80" r="2.75"/><circle cx="500.25" cy="464.80" r="2.75"/><circle cx="505.35" cy="464.80" r="2.75"/><circle cx="535.92" cy="464.80" r="2.75"/><circle cx="474.78" cy="469.88" r="2.75"/><circle cx="479.88" cy="469.88" r="2.75"/><circle cx="500.25" cy="469.88" r="2.75"/><circle cx="479.88" cy="474.96" r="2.75"/><circle cx="484.97" cy="474.96" r="2.75"/><circle cx="490.06" cy="474.96" r="2.75"/><circle cx="495.16" cy="474.96" r="2.75"/><circle cx="505.35" cy="474.96" r="2.75"/><circle cx="474.78" cy="480.04" r="2.75"/><circle cx="484.97" cy="480.04" r="2.75"/><circle cx="490.06" cy="480.04" r="2.75"/><circle cx="500.25" cy="480.04" r="2.75"/><circle cx="515.54" cy="480.04" r="2.75"/><circle cx="530.82" cy="480.04" r="2.75"/><circle cx="490.06" cy="490.20" r="2.75"/><circle cx="525.73" cy="490.20" r="2.75"/><circle cx="530.82" cy="490.20" r="2.75"/><circle cx="535.92" cy="490.20" r="2.75"/><circle cx="622.53" cy="454.64" r="2.75"/></g>
<path d="M474.70,463.25 L477.16,463.41 L479.62,463.55 L482.08,463.66 L484.55,463.75 L487.01,463.80 L489.47,463.83 L491.93,463.81 L494.39,463.76 L496.85,463.67 L499.32,463.55 L501.78,463.38 L504.24,463.18 L506.70,462.95 L509.16,462.69 L511.62,462.40 L514.09,462.09 L516.55,461.76 L519.01,461.40 L521.47,461.04 L523.93,460.65 L526.39,460.26 L528.86,459.86 L531.32,459.44 L533.78,459.02 L536.24,458.59 L538.70,458.16 L541.16,457.72 L543.63,457.27 L546.09,456.82 L548.55,456.37 L551.01,455.91 L553.47,455.45 L555.93,454.99 L558.40,454.52 L560.86,454.06 L563.32,453.59 L565.78,453.12 L568.24,452.64 L570.70,452.17 L573.17,451.69 L575.63,451.22 L578.09,450.74 L580.55,450.26 L583.01,449.78 L585.48,449.30 L587.94,448.81 L590.40,448.33 L592.86,447.85 L595.32,447.36 L597.78,446.88 L600.25,446.39 L602.71,445.91 L605.17,445.42 L607.63,444.93 L610.09,444.44 L612.55,443.96 L615.01,443.47 L617.48,442.98 L619.94,442.49 L622.40,442.00 L622.40,485.60 L619.94,485.28 L617.48,484.96 L615.01,484.64 L612.55,484.32 L610.09,484.01 L607.63,483.69 L605.17,483.37 L602.71,483.05 L600.25,482.74 L597.78,482.42 L595.32,482.11 L592.86,481.79 L590.40,481.48 L587.94,481.17 L585.48,480.85 L583.01,480.54 L580.55,480.23 L578.09,479.92 L575.63,479.61 L573.17,479.31 L570.70,479.00 L568.24,478.70 L565.78,478.39 L563.32,478.09 L560.86,477.79 L558.40,477.50 L555.93,477.20 L553.47,476.91 L551.01,476.62 L548.55,476.33 L546.09,476.05 L543.63,475.77 L541.16,475.49 L538.70,475.22 L536.24,474.96 L533.78,474.70 L531.32,474.45 L528.86,474.20 L526.39,473.97 L523.93,473.75 L521.47,473.53 L519.01,473.34 L516.55,473.15 L514.09,472.99 L511.62,472.85 L509.16,472.73 L506.70,472.64 L504.24,472.58 L501.78,472.55 L499.32,472.55 L496.85,472.60 L494.39,472.68 L491.93,472.80 L489.47,472.95 L487.01,473.15 L484.55,473.37 L482.08,473.63 L479.62,473.91 L477.16,474.22 L474.70,474.55Z" fill="#999999" fill-opacity="0.4"/><line x1="474.7" y1="468.9" x2="622.4" y2="463.8" stroke="#2B4DF4" stroke-width="2.7"/>
<g stroke="#2B4DF4" fill="none"><line x1="632.6" y1="439.4" x2="632.6" y2="462.7" stroke-width="1.35"/><line x1="632.6" y1="479.8" x2="632.6" y2="489.8" stroke-width="1.35"/><rect x="622.25" y="462.7" width="20.7" height="17.100000000000023" fill="#fff" stroke-width="1.4"/><line x1="622.25" y1="474.8" x2="642.95" y2="474.8" stroke-width="2.3"/></g><g fill="#2B4DF4"><circle cx="632.6" cy="408.3" r="2.75"/><circle cx="632.6" cy="413.4" r="2.75"/><circle cx="632.6" cy="418.4" r="2.75"/><circle cx="632.6" cy="423.6" r="2.75"/><circle cx="632.6" cy="434.3" r="2.75"/></g>
<text x="460.25" y="371.00" font-size="13.0" fill="#000" text-anchor="start" >R = 0.06</text>
<text x="461.45" y="389.80" font-size="13.0" fill="#000" text-anchor="start" >p = 0.701</text>
<text x="458.85" y="409.10" font-size="13.0" fill="#000" text-anchor="start" >n = 41</text>
<text x="553.75" y="351.00" font-size="10.56" fill="#1A1A1A" text-anchor="middle" >Large</text>
<text x="505.35" y="510.60" font-size="10.56" fill="#4D4D4D" text-anchor="middle" >10</text>
<text x="556.30" y="510.60" font-size="10.56" fill="#4D4D4D" text-anchor="middle" >20</text>
<text x="607.25" y="510.60" font-size="10.56" fill="#4D4D4D" text-anchor="middle" >30</text>
<text x="43.90" y="494.70" font-size="10.56" fill="#4D4D4D" text-anchor="end" >0</text>
<text x="43.90" y="469.30" font-size="10.56" fill="#4D4D4D" text-anchor="end" >5</text>
<text x="43.90" y="443.90" font-size="10.56" fill="#4D4D4D" text-anchor="end" >10</text>
<text x="43.90" y="418.50" font-size="10.56" fill="#4D4D4D" text-anchor="end" >15</text>
<text x="43.90" y="393.10" font-size="10.56" fill="#4D4D4D" text-anchor="end" >20</text>
<text x="43.90" y="367.70" font-size="10.56" fill="#4D4D4D" text-anchor="end" >25</text>
<text x="657.40" y="494.70" font-size="10.56" fill="#4D4D4D" text-anchor="start" >0</text>
<text x="657.40" y="469.30" font-size="10.56" fill="#4D4D4D" text-anchor="start" >5</text>
<text x="657.40" y="443.90" font-size="10.56" fill="#4D4D4D" text-anchor="start" >10</text>
<text x="657.40" y="418.50" font-size="10.56" fill="#4D4D4D" text-anchor="start" >15</text>
<text x="657.40" y="393.10" font-size="10.56" fill="#4D4D4D" text-anchor="start" >20</text>
<text x="657.40" y="367.70" font-size="10.56" fill="#4D4D4D" text-anchor="start" >25</text>
<text x="0.70" y="11.80" font-size="15.84" fill="#000" text-anchor="start" >A</text>
<text x="0.70" y="299.90" font-size="15.84" fill="#000" text-anchor="start" >B</text>
<text x="351.00" y="271.60" font-size="13.2" fill="#000" text-anchor="middle" >Non-invasive Gradient (mmHg)</text>
<text x="351.30" y="525.30" font-size="13.2" fill="#000" text-anchor="middle" >Non-invasive Gradient (mmHg)</text>
<text x="0.00" y="0.00" font-size="13.2" fill="#000" text-anchor="middle" transform="translate(22.4,138.0) rotate(-90)">Invasive Gradient (mmHg)</text>
<text x="0.00" y="0.00" font-size="13.2" fill="#000" text-anchor="middle" transform="translate(26.8,426.4) rotate(-90)">Invasive Gradient (mmHg)</text>
<text x="0.00" y="0.00" font-size="13.2" fill="#000" text-anchor="middle" transform="translate(673.7,138.4) rotate(90)">Absolute discrepancy [mmHg]</text>
<text x="0.00" y="0.00" font-size="13.2" fill="#000" text-anchor="middle" transform="translate(675.4,427.1) rotate(90)">Absolute discrepancy [mmHg]</text>
</svg></body></html>
